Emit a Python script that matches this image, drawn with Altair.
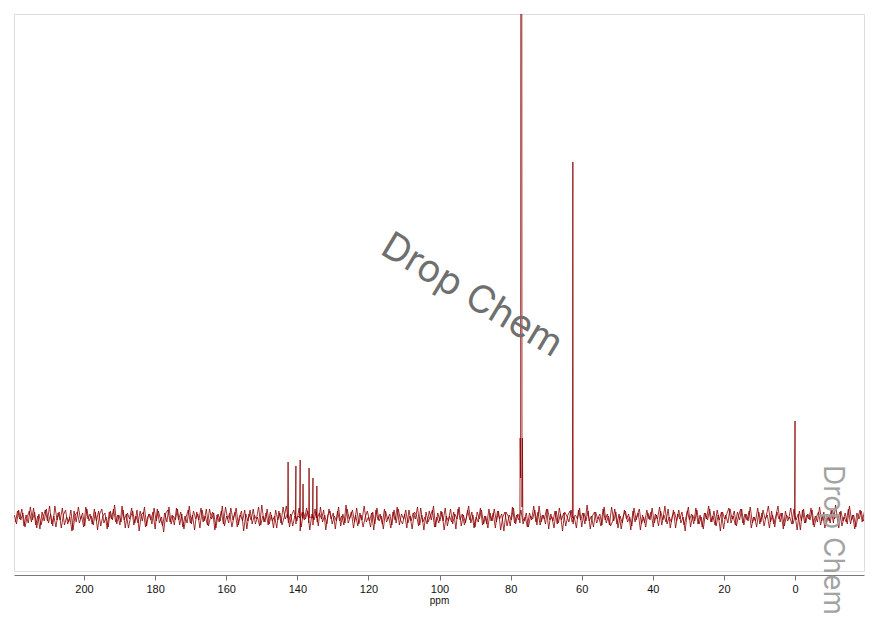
import altair as alt
import pandas as pd

# Noise baseline (read/estimated): two overlaid traces sampled every 0.6 ppm
noise_a_start = 219.6
noise_b_start = 219.3
noise_step = 0.6
noise_a = [
    3,-6,8,-2,5,-9,1,7,-4,10,-7,2,-11,6,-3,9,-5,4,-8,12,
    -2,6,-10,3,8,-6,1,-13,7,-4,11,-1,5,-8,9,-3,2,-7,6,-12,
    4,9,-5,1,-9,7,-2,13,-6,3,-4,8,-10,5,-1,10,-7,2,-5,7,
    -3,11,-8,4,-2,6,-11,9,-5,1,-14,5,8,-4,3,-7,10,-2,6,-9,
    2,-5,12,-6,7,-1,4,-10,8,-3,9,-8,1,6,-12,3,-4,7,-6,11,
    -1,5,-9,2,10,-7,3,-3,8,-11,4,-2,9,-6,1,-8,13,-4,5,-7,
    6,-3,2,-10,7,-5,11,-1,4,-9,3,8,-6,2,-13,6,-2,10,-5,1,
    -7,9,-4,5,-1,8,-12,3,7,-6,2,-3,11,-8,4,-5,9,-1,6,-10,
    3,-8,5,-2,12,-4,1,-9,6,-6,10,-3,2,-11,7,-1,4,-7,8,-5,
    9,-2,-6,4,-10,8,-3,5,-1,11,-7,3,-12,6,-4,2,8,-9,1,-5,
    7,-3,10,-8,2,-4,6,-11,9,-2,4,-7,1,12,-5,3,-9,6,-1,8,
    -6,2,-10,5,-3,9,-4,7,-12,1,6,-8,3,-2,10,-6,4,-5,11,-3,
    5,-9,2,-1,8,-7,12,-4,3,-6,9,-2,1,-10,7,-5,4,-13,6,2,
    -4,8,-6,3,-1,10,-9,5,-3,7,-11,2,6,-5,1,-8,9,-2,4,-7,
    11,-3,6,-10,2,-5,8,-1,4,-12,7,-4,3,9,-6,1,-9,5,-2,10,
    -5,3,-8,7,-2,12,-6,1,-4,8,-10,4,-1,6,-7,2,11,-9,3,-3,
    8,-6,1,-11,5,-2,9,-4,7,-8,3,-13,6,-1,4,10,-5,2,-7,6,
    -2,9,-7,4,-3,11,-5,1,-9,6,-4,8,-1,3,-10,7,-6,2,12,-4,
    5,-8,3,-1,10,-6,2,-12,7,-3,9,-5,4,-2,8,-9,1,6,-7,3,
    -10,4,-3,8,-5,13,-2,6,-8,1,-4,9,-6,3,-11,5,-1,7,-3,2,
]
noise_b = [
    -4,7,-1,9,-8,3,-5,11,-2,6,-10,4,-7,1,8,-3,12,-6,2,-9,
    5,-2,10,-7,1,-4,8,-12,3,6,-5,2,-9,11,-1,4,-6,9,-3,7,
    -8,2,5,-11,6,-1,9,-4,3,-7,12,-2,4,-10,1,7,-5,8,-13,3,
    6,-9,1,4,-6,10,-3,7,-1,-8,5,-4,11,-6,2,-2,9,-7,4,-11,
    1,8,-5,3,-12,6,-2,10,-4,2,-7,9,-1,5,-10,4,-3,12,-8,2,
    -5,10,-2,6,-9,1,7,-13,4,-3,8,-6,3,-1,11,-7,2,-4,9,-6,
    3,-10,8,-2,5,-7,1,12,-5,4,-8,2,-3,10,-9,6,-1,7,-12,4,
    -2,6,-8,11,-4,3,-6,9,-1,5,-11,7,-3,2,-7,13,-5,1,8,-4,
    10,-6,3,-9,1,7,-3,5,-12,8,-2,4,-6,9,-4,1,-10,6,-2,11,
    -7,4,-1,8,-5,2,-11,6,3,-8,10,-4,1,-6,7,-2,12,-9,5,-3,
    6,-12,2,-3,9,-6,4,-1,11,-8,3,-5,8,-2,6,-10,1,-4,10,-7,
    2,-6,9,-3,5,-10,7,-1,4,-13,6,2,-8,11,-5,3,-2,8,-6,1,
    -9,5,-2,12,-4,6,-7,3,-1,9,-11,4,-3,7,-6,10,-2,5,-8,3,
    7,-4,1,-10,8,-2,5,-6,13,-3,2,-9,6,-1,4,-7,11,-5,2,-8,
    -3,9,-6,4,-11,2,7,-4,1,-8,10,-2,5,-12,3,-5,8,-1,6,-9,
    4,-1,11,-7,3,-4,9,-10,2,6,-3,8,-5,1,-13,7,-2,4,-6,10,
    -6,3,-9,5,-1,12,-4,2,-7,8,-2,6,-11,3,-5,9,-1,7,-8,2,
    9,-5,4,-2,7,-10,1,-3,10,-6,5,-8,2,12,-4,3,-9,6,-1,5,
    -11,7,-3,1,-6,9,-2,4,-12,8,-5,3,-1,10,-7,2,-4,11,-3,6,
    -8,2,-5,9,-1,4,-10,7,-3,5,-6,12,-2,3,-9,1,8,-4,6,-2,
]

# Peak profile points (ppm, intensity)
peak_ppm = [
    142.72, 142.6, 142.48,
    140.52, 140.4, 140.28,
    139.32, 139.2, 139.08,
    138.52, 138.4, 138.28,
    136.82, 136.7, 136.58,
    135.72, 135.6, 135.48,
    134.62, 134.5, 134.38,
    77.44, 77.32, 77.2, 77.08, 76.92, 76.8, 76.68, 76.56,
    62.62, 62.5, 62.38,
    0.12, 0.0, -0.12,
]
peak_val = [
    0, 56, 0,
    0, 52, 0,
    0, 58, 0,
    0, 34, 0,
    0, 50, 0,
    0, 40, 0,
    0, 32, 0,
    0, 80, 40, 1000, 1000, 40, 80, 0,
    0, 356, 0,
    0, 97, 0,
]

# Watermarks
wm_text = ["Drop Chem", "Drop Chem"]
wm_ppm = [91.0, -10.3]
wm_val = [222, -22]
wm_angle = [31, 90]
wm_size = [38, 28]
wm_color = ["#6f6f6f", "#a3a3a3"]

noise_a_ppm = [round(noise_a_start - i * noise_step, 2) for i in range(len(noise_a))]
noise_b_ppm = [round(noise_b_start - i * noise_step, 2) for i in range(len(noise_b))]
df = pd.DataFrame({
    "ppm": noise_a_ppm + peak_ppm + noise_b_ppm,
    "val": noise_a + peak_val + noise_b,
    "trace": ["a"] * (len(noise_a) + len(peak_ppm)) + ["b"] * len(noise_b),
})

x_scale = alt.Scale(domain=[219.7, -19.4], nice=False, zero=False)
y_scale = alt.Scale(domain=[-53, 504], nice=False, zero=False)

line = alt.Chart(df).mark_line(color="#8b0000", strokeWidth=0.8, clip=True).encode(
    x=alt.X("ppm:Q", scale=x_scale,
            axis=alt.Axis(title="ppm", values=[200, 180, 160, 140, 120, 100, 80, 60, 40, 20, 0],
                          grid=False, offset=4, tickSize=5, labelFontSize=11,
                          titleFontSize=10, titleFontWeight="normal", titlePadding=1,
                          labelColor="#111", titleColor="#111", labelFont="Liberation Sans",
                          titleFont="Liberation Sans", domainColor="#777", tickColor="#777",
                          labelPadding=3)),
    y=alt.Y("val:Q", scale=y_scale, axis=None),
    detail="trace:N",
    order="ppm:Q",
)

wm_df = pd.DataFrame({"t": wm_text, "ppm": wm_ppm, "val": wm_val})

layers = []
for i in range(len(wm_text)):
    layers.append(
        alt.Chart(wm_df.iloc[[i]]).mark_text(
            angle=wm_angle[i], fontSize=wm_size[i], color=wm_color[i],
            font="Inter", align="center", baseline="middle",
        ).encode(
            x=alt.X("ppm:Q", scale=x_scale),
            y=alt.Y("val:Q", scale=y_scale),
            text="t:N",
        )
    )

chart = alt.layer(line, *layers).properties(
    width=850, height=557,
    padding={"left": 6, "top": 6, "right": 5, "bottom": 5},
).configure_view(stroke="#e4e4e4").configure(background="white")

chart.save("out.html", embed_options={"renderer": "svg", "actions": False})
